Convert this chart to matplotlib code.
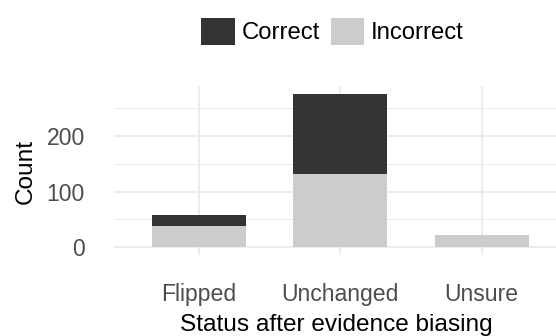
import matplotlib
matplotlib.use("Agg")
import matplotlib.pyplot as plt
import numpy as np

categories = ["Flipped", "Unchanged", "Unsure"]
incorrect = [38, 131, 22]
correct = [20, 144, 0]
y_ticks = [0, 100, 200]
y_minor = [50, 150, 250]

plt.rcParams['font.family'] = ['Liberation Sans', 'DejaVu Sans']

W, H = 556, 336
fig = plt.figure(figsize=(W / 100, H / 100), dpi=100)
left, right, top, bottom = 114, 566.5, 86.2, 255
ax = fig.add_axes([left / W, 1 - bottom / H, (right - left) / W, (bottom - top) / H])

x = np.arange(len(categories))
bw = 0.665
b1 = ax.bar(x, incorrect, width=bw, color="#CCCCCC", label="Incorrect", zorder=3)
b2 = ax.bar(x, correct, width=bw, bottom=incorrect, color="#333333", label="Correct", zorder=3)

ymax = max(i + c for i, c in zip(incorrect, correct))
ax.set_xlim(-0.6, len(categories) - 0.4)
ax.set_ylim(-0.05 * ymax, 1.05 * ymax)

ax.set_xticks(x)
ax.set_xticklabels(categories)
ax.set_yticks(y_ticks)
ax.set_yticks(y_minor, minor=True)
ax.grid(True, which="major", axis="both", color="#EBEBEB", linewidth=1.3, zorder=0)
ax.grid(True, which="minor", axis="y", color="#EBEBEB", linewidth=0.7, zorder=0)
ax.set_axisbelow(True)
for s in ax.spines.values():
    s.set_visible(False)
ax.tick_params(axis="both", which="both", length=0, labelsize=16.6, labelcolor="#4D4D4D")
ax.tick_params(axis="x", pad=20)
ax.tick_params(axis="y", pad=21)

fig.text(336 / W, 1 - 331.5 / H, "Status after evidence biasing", ha="center", va="baseline",
         fontsize=17.6, color="black")
fig.text(31.7 / W, 1 - 171 / H, "Count", rotation=90, rotation_mode="anchor",
         ha="center", va="baseline", fontsize=17.6, color="black")

fig.legend(handles=[b2, b1], labels=["Correct", "Incorrect"], loc="center",
           bbox_to_anchor=(332.4 / W, 1 - 31.3 / H), ncol=2, frameon=False,
           fontsize=17.2, handlelength=1.4, handleheight=1.4, handletextpad=0.28,
           columnspacing=0.45, borderpad=0, borderaxespad=0)

fig.savefig("out.png", dpi=100)
